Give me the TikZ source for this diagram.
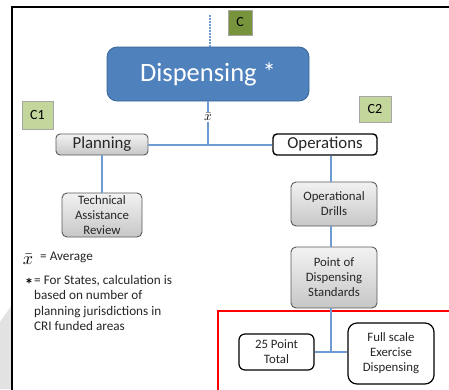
\documentclass[tikz,border=0pt]{standalone}
\usepackage{fontspec}
\setmainfont{Carlito}
\usetikzlibrary{calc}
\definecolor{dispblue}{HTML}{4F81BD}
\definecolor{dispedge}{HTML}{3B6496}
\definecolor{linkblue}{HTML}{6E9BD2}
\definecolor{olive}{HTML}{77933C}
\definecolor{palegreen}{HTML}{C3D69B}
\definecolor{txt}{HTML}{262626}
\definecolor{slidegrey}{HTML}{E2E2E2}
\tikzset{
  link/.style={draw=linkblue, line width=1.1pt},
  tag/.style={draw=gray!70, line width=0.6pt, minimum width=#1, inner sep=0pt, font=\fontsize{14}{16}\selectfont, text=black},
  greybox/.style={rounded corners=5pt, draw=black!65, line width=0.9pt, top color=white!95!black, bottom color=black!22,
                  inner sep=0pt, align=center, text=txt},
  whitebox/.style={rounded corners=6pt, draw=black, line width=1.4pt, fill=white, inner sep=0pt, align=center, text=txt},
  smalltext/.style={font=\fontsize{12.8}{15}\selectfont},
  headtext/.style={font=\fontsize{16.8}{18}\selectfont},
  legendtext/.style={font=\fontsize{13.2}{15.5}\selectfont}
}
\begin{document}
\begin{tikzpicture}[x=1pt,y=-1pt]
  \useasboundingbox (0,0) rectangle (449,389);
  % page background, slide frame and faint side shape
  \fill[white] (0,0) rectangle (449,389);
  \fill[slidegrey] (0,322) -- (12,305) -- (12,389) -- (0,389) -- cycle;
  \draw[black, line width=2pt] (12,395) -- (12,7) -- (455,7);

  % top level
  \node[rounded corners=10pt, fill=dispblue, draw=dispedge, line width=0.8pt,
        minimum width=202pt, minimum height=54pt, inner sep=0pt,
        text=white, font=\fontsize{26.5}{28}\selectfont] (disp) at (208,74) {Dispensing *};
  \coordinate (feed) at (210,15);
  \draw[linkblue, line width=1.1pt, dash pattern=on 1.6pt off 1.4pt] (feed) -- (feed |- disp.north);
  \node[tag=24pt, fill=olive, minimum height=25pt] (c) at (240,22.5) {C};
  \node[tag=31pt, fill=palegreen, minimum height=28pt] (c1) at (37.5,115) {C1};
  \node[tag=32pt, fill=palegreen, minimum height=26pt] (c2) at (375,109) {C2};

  % average marker and split
  \node[inner sep=0.3pt, scale=1.35] (xbar) at (208,117) {$\bar{x}$};
  \coordinate (split) at (208,145);
  \draw[link] (disp.south) -- (xbar.north);
  \draw[link] (xbar.south) -- (split);

  \node[greybox, rounded corners=4pt, minimum width=92pt, minimum height=21pt, headtext] (plan) at (102,144.5) {Planning};
  \node[whitebox, rounded corners=4pt, minimum width=104pt, minimum height=21pt, headtext] (ops) at (325,144.5) {Operations};
  \draw[link] (plan.east |- split) -- (ops.west |- split);

  % planning branch
  \node[greybox, minimum width=80pt, minimum height=44pt, smalltext] (tar) at (102,215) {Technical\\Assistance\\Review};
  \draw[link] (plan.south) -- (tar.north);

  % operations branch
  \coordinate (spine) at (331,0);
  \node[greybox, minimum width=86pt, minimum height=44pt, smalltext] (drills) at (334,204) {Operational\\Drills};
  \node[greybox, minimum width=86pt, minimum height=61pt, smalltext] (pods) at (334,277.5) {Point of\\Dispensing\\Standards};
  \draw[link] (ops.south -| spine) -- (drills.north -| spine);
  \draw[link] (drills.south -| spine) -- (pods.north -| spine);

  % highlighted area
  \draw[red, line width=1.4pt] (455,311) -- (218,311) -- (218,395);
  \node[whitebox, line width=1.2pt, minimum width=75pt, minimum height=36pt, smalltext] (total) at (276.5,352) {25 Point\\Total};
  \node[whitebox, line width=1.2pt, rounded corners=9pt, minimum width=86pt, minimum height=61pt, smalltext] (full) at (391,353.5) {Full scale\\Exercise\\Dispensing};
  \coordinate (join) at (spine |- total.east);
  \draw[link] (pods.south -| spine) -- (join);
  \draw[link] (total.east) -- (total.east -| full.west);

  % legend
  \node[inner sep=0pt, scale=1.8] (lx) at (28,259) {$\bar{x}$};
  \node[anchor=west, inner sep=0pt, text=txt, legendtext] (lavg) at (40,257) {= Average};
  \node[anchor=center, inner sep=0pt, font=\fontsize{17}{17}\selectfont\bfseries] (lstar) at (29,284) {*};
  \node[anchor=north west, inner sep=0pt, align=left, text=txt, legendtext] (lnote) at (34,275)
    {= For States, calculation is\\based on number of\\planning jurisdictions in\\CRI funded areas};
\end{tikzpicture}
\end{document}
